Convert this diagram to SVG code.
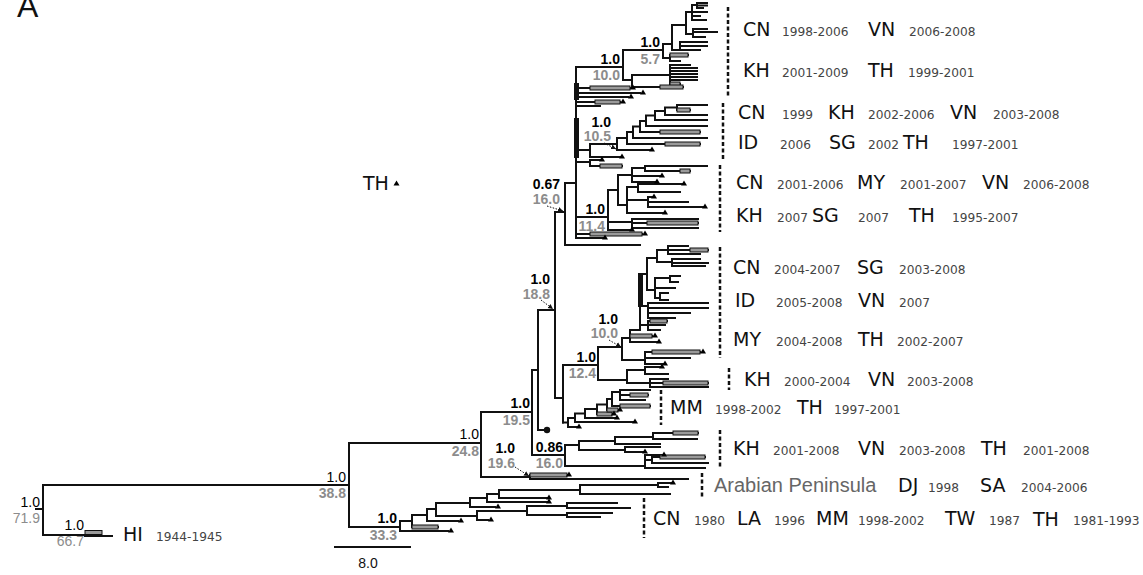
<svg xmlns="http://www.w3.org/2000/svg" xmlns:xlink="http://www.w3.org/1999/xlink" width="1143" height="575" viewBox="0 0 1143 575">
<style>
.b{fill:none;stroke:#111;stroke-width:2;stroke-linecap:square}
.d{fill:none;stroke:#111;stroke-width:2.5;stroke-dasharray:4 2.5}
.g{fill:#9a9a9a;stroke:#111;stroke-width:1}
.ar{fill:none;stroke:#111;stroke-width:1;stroke-dasharray:1.5 1.5}
.n{font-family:"Liberation Sans",Arial,sans-serif;font-size:14px;text-anchor:end;fill:#000}
.nb{font-weight:bold}
.gr{fill:#8c8c8c}
.cc{font-family:"DejaVu Sans",Verdana,sans-serif;font-size:19px;fill:#111}
.yr{font-family:"DejaVu Sans",Verdana,sans-serif;font-size:12.2px;fill:#444}
</style>
<defs>
<path id="tr" d="M-3,1.5L3,1.5L0,-3.5Z" fill="#000"/>
<marker id="ah" markerWidth="6" markerHeight="6" refX="5" refY="3" orient="auto" markerUnits="userSpaceOnUse"><path d="M0,0.5L5,3L0,5.5Z" fill="#111"/></marker>
</defs>
<rect width="1143" height="575" fill="#fff"/>
<text x="17" y="17" font-family="Liberation Sans, Arial, sans-serif" font-size="32" fill="#111">A</text>

<g id="connectors">
<path class="b" d="M36,509H43 M43,485V535 M43,485H349 M43,535H85 M85,536H112 M349,443V527 M349,443H481 M481,412V477 M481,412H532 M481,477H530 M532,370V455 M532,370H538 M532,455H565 M538,310V430 M538,430H547 M538,310H555 M555,212V398 M555,212H565 M555,398H563 M565,183V245 M565,183H576 M565,245H640 M349,527H400"/>
<path class="b" d="M576,67V238 M576,67H623 M623,50V80 M623,50H663 M623,80H632 M663,44V58 M663,58H670 M663,44H672 M670,55V61 M670,55H688 M670,61H680 M672,25V50 M672,50H680 M672,25H686 M680,42V50 M680,42H707 M680,46H707 M680,50H700 M686,12V34 M686,34H693 M686,12H692 M693,29V37 M693,29H707 M693,32H717 M693,37H705 M692,5V20 M692,5H697 M692,12H707 M692,16H700 M692,20H706 M697,3V8 M697,3H707 M697,5.5H707 M697,8H703 M632,75V87 M632,75H670 M632,87H683 M670,65V84 M670,65H690 M670,68H697 M670,71H697 M670,74H697 M670,77H697 M670,80H697 M670,84H680"/>
<path class="b" d="M576,88H630 M576,93H640 M576,97H628 M576,102H620 M576,106H600 M576,150H590 M590,144V157 M590,144H617 M590,157H620 M576,162H590 M590,160V166 M590,160H600 M590,166H622 M576,217H608 M576,234H642 M576,238H603"/>
<path class="b" d="M617,138V150 M617,150H650 M617,138H627 M627,132V144 M627,144H700 M627,132H633 M633,126.5V138 M633,138H707 M633,126.5H640 M640,121V132 M640,132H700 M640,121H646 M646,115.5V126 M646,126H707 M646,115.5H655 M655,111V120 M655,120H707 M655,111H665 M665,107.5V115 M665,115H707 M665,107.5H677 M677,105V110 M677,105H707 M677,110H690"/>
<path class="b" d="M608,190V230 M608,190H618 M618,175V205 M618,175H632 M632,168V182 M632,168H645 M645,166V171 M645,166H707 M645,171H690 M632,176H660 M632,182H655 M618,205H627 M627,187V213 M627,187H638 M638,184V192 M638,184H682 M638,192H680 M627,200H648 M648,197V207 M648,197H652 M648,202H688 M648,207H703 M627,213H663 M608,222H632 M632,219V228 M632,219H698 M632,223H698 M632,228H698 M608,230H630"/>
<path class="b" d="M563,365V422.5 M563,365H598 M598,347V380 M598,347H622 M598,380H627 M622,338V360 M622,338H630 M622,360H645 M630,330V342 M630,330H640 M630,336H652 M630,342H657 M645,352V364 M645,352H700 M645,358H690 M645,364H663 M640,274V330 M640,274H647 M647,258V290 M647,258H657 M657,250V262 M657,250H668 M668,246V254 M668,246H688 M668,250H708 M668,254H700 M657,262H672 M672,259V266 M672,259H700 M672,263H708 M672,266H705 M647,290H655 M655,278V298 M655,278H670 M670,276V282 M670,276H680 M670,282H678 M655,288H675 M655,298H660 M660,293V300 M660,293H668 M660,300H668 M640,306H648 M648,303V318 M648,303H708 M648,308H708 M648,313H690 M648,318H675 M640,325H648 M648,321V330 M648,321H667 M648,325H665 M648,330H660 M627,370V383 M627,370H645 M645,367V374 M645,367H660 M645,374H668 M627,383H650 M650,379V387 M650,379H668 M650,383H708 M650,387H708"/>
<path class="b" d="M563,422.5H568 M568,418V427 M568,427H577 M568,418H575 M575,413.5V422 M575,422H633 M575,413.5H585 M585,409V418 M585,418H615 M585,409H597 M597,404.5V414 M597,414H612 M597,404.5H607 M607,399V410 M607,410H618 M607,399H612 M612,392V406 M612,406H650 M612,392H620 M620,390V400 M620,390H650 M620,395H648 M620,400H645"/>
<path class="b" d="M565,445V466 M565,445H579 M579,441V450 M579,441H615 M615,437V444 M615,437H653 M653,433V439 M653,433H698 M653,439H697 M615,444H660 M579,450H625 M625,447V452 M625,447H660 M625,452H643 M565,466H645 M645,455V468 M645,455H662 M645,460H652 M652,457V463 M652,457H705 M652,463H708 M645,468H705 M530,475V479 M530,475H567 M530,479H688"/>
<path class="b" d="M400,521V531 M400,531H448 M400,521H412 M412,515V527 M412,527H438 M412,515H427 M427,509V521 M427,521H458 M427,509H436 M436,503V516 M436,516H477 M436,503H470 M477,511V520 M477,520H488 M477,511H527 M527,506V515 M527,506H567 M567,503V508 M567,503H617 M567,508H630 M527,515H567 M567,513V517 M567,513H612 M567,517H600 M470,498V507 M470,507H495 M470,498H487 M487,494V502 M487,502H547 M487,494H499 M499,490V498 M499,498H547 M499,490H580 M580,485V494 M580,485H658 M658,483V487 M658,483H672 M658,487H668 M580,494H670"/>
<rect x="574" y="83" width="5" height="17" fill="#111"/>
<rect x="574" y="118" width="5" height="40" fill="#111"/>
<rect x="638" y="273" width="5" height="34" fill="#111"/>
<g class="g">
<rect x="85" y="530.5" width="17" height="4"/>
<rect x="670" y="53" width="18" height="4"/><rect x="670" y="82" width="10" height="4"/><rect x="660" y="85" width="23" height="4"/>
<rect x="590" y="86" width="40" height="4"/><rect x="595" y="100" width="25" height="4"/><rect x="600" y="164" width="22" height="4"/><rect x="590" y="232" width="52" height="4"/>
<rect x="665" y="142" width="35" height="4"/><rect x="660" y="130" width="40" height="4"/><rect x="677" y="108" width="13" height="4"/>
<rect x="680" y="169" width="10" height="4"/><rect x="647" y="221" width="51" height="4"/>
<rect x="690" y="248" width="18" height="4"/><rect x="650" y="319" width="17" height="4"/>
<rect x="630" y="334" width="22" height="4"/><rect x="652" y="350" width="48" height="4"/>
<rect x="663" y="381" width="45" height="4"/>
<rect x="597" y="412" width="15" height="4"/><rect x="607" y="408" width="11" height="4"/><rect x="620" y="404" width="30" height="4"/><rect x="630" y="393" width="18" height="4"/>
<rect x="673" y="431" width="25" height="4"/><rect x="660" y="455" width="45" height="4"/>
<rect x="530" y="473" width="37" height="4"/>
<rect x="412" y="525" width="26" height="4"/>
</g>
<g id="tips">
<use href="#tr" x="633" y="88"/><use href="#tr" x="643" y="93"/><use href="#tr" x="631" y="97"/><use href="#tr" x="623" y="102"/>
<use href="#tr" x="622" y="157"/><use href="#tr" x="602" y="160"/><use href="#tr" x="652" y="150"/>
<use href="#tr" x="662" y="176"/><use href="#tr" x="657" y="182"/><use href="#tr" x="684" y="184"/><use href="#tr" x="654" y="197"/><use href="#tr" x="705" y="207"/><use href="#tr" x="665" y="213"/><use href="#tr" x="632" y="230"/><use href="#tr" x="645" y="234"/><use href="#tr" x="605" y="238"/>
<use href="#tr" x="655" y="336"/><use href="#tr" x="659" y="342"/><use href="#tr" x="703" y="352"/><use href="#tr" x="665" y="364"/><use href="#tr" x="662" y="367"/>
<use href="#tr" x="579" y="427"/><use href="#tr" x="635" y="422"/><use href="#tr" x="617" y="418"/><use href="#tr" x="614" y="414"/><use href="#tr" x="620" y="410"/>
<use href="#tr" x="664" y="455"/><use href="#tr" x="645" y="452"/><use href="#tr" x="569" y="475"/><use href="#tr" x="673" y="483"/>
<use href="#tr" x="451" y="531"/><use href="#tr" x="461" y="521"/><use href="#tr" x="491" y="520"/><use href="#tr" x="498" y="507"/><use href="#tr" x="549" y="502"/><use href="#tr" x="549" y="498"/>
<circle cx="547" cy="430" r="3.2" fill="#111"/>
</g>
<g id="arrows">
<path class="ar" marker-end="url(#ah)" d="M547,206L563,211"/>
<path class="ar" marker-end="url(#ah)" d="M541,300L553,309"/>
<path class="ar" marker-end="url(#ah)" d="M604,143L616,149"/>
<path class="ar" marker-end="url(#ah)" d="M609,340L621,347"/>
<path class="ar" marker-end="url(#ah)" d="M515,467L529,476"/>
</g>
</g>

<g id="node-labels">
<g id="n-root"><text class="n" x="40" y="507">1.0</text><text class="n gr" x="40" y="523">71.9</text></g>
<g id="n-hi"><text class="n" x="84" y="530">1.0</text><text class="n gr" x="84" y="546">66.7</text></g>
<g id="n-38"><text class="n" x="346" y="482">1.0</text><text class="n nb gr" x="346" y="498">38.8</text></g>
<g id="n-24"><text class="n" x="479" y="439">1.0</text><text class="n nb gr" x="479" y="456">24.8</text></g>
<g id="n-195"><text class="n nb" x="530" y="408">1.0</text><text class="n nb gr" x="530" y="425">19.5</text></g>
<g id="n-196"><text class="n nb" x="515" y="453">1.0</text><text class="n nb gr" x="515" y="468">19.6</text></g>
<g id="n-086"><text class="n nb" x="563" y="452">0.86</text><text class="n nb gr" x="563" y="468">16.0</text></g>
<g id="n-333"><text class="n nb" x="397" y="523">1.0</text><text class="n nb gr" x="397" y="540">33.3</text></g>
<g id="n-188"><text class="n nb" x="550" y="284">1.0</text><text class="n nb gr" x="550" y="299">18.8</text></g>
<g id="n-067"><text class="n nb" x="560" y="189">0.67</text><text class="n nb gr" x="560" y="204">16.0</text></g>
<g id="n-105"><text class="n nb" x="611" y="127">1.0</text><text class="n nb gr" x="611" y="141">10.5</text></g>
<g id="n-114"><text class="n nb" x="605" y="214">1.0</text><text class="n nb gr" x="605" y="231">11.4</text></g>
<g id="n-100a"><text class="n nb" x="620" y="64">1.0</text><text class="n nb gr" x="620" y="80">10.0</text></g>
<g id="n-57"><text class="n nb" x="660" y="47">1.0</text><text class="n nb gr" x="660" y="64">5.7</text></g>
<g id="n-100b"><text class="n nb" x="618" y="324">1.0</text><text class="n nb gr" x="618" y="338">10.0</text></g>
<g id="n-124"><text class="n nb" x="596" y="362">1.0</text><text class="n nb gr" x="596" y="378">12.4</text></g>
</g>

<g id="legend">
<text class="cc" x="363" y="190" font-size="18">TH</text>
<use href="#tr" x="396.5" y="184"/>
<path class="b" d="M335,547H410"/>
<text x="368" y="568" font-family="Liberation Sans, Arial, sans-serif" font-size="14" text-anchor="middle" fill="#111">8.0</text>
</g>

<g id="label-hi"><text y="541"><tspan class="cc" x="123" font-size="21">HI</tspan><tspan class="yr" x="156">1944-1945</tspan></text></g>

<g id="clade-1">
<path class="d" d="M728,7V97"/>
<text y="36"><tspan class="cc" x="743">CN</tspan><tspan class="yr" x="782">1998-2006</tspan><tspan class="cc" x="868">VN</tspan><tspan class="yr" x="909">2006-2008</tspan></text>
<text y="77"><tspan class="cc" x="743">KH</tspan><tspan class="yr" x="782">2001-2009</tspan><tspan class="cc" x="868">TH</tspan><tspan class="yr" x="908">1999-2001</tspan></text>
</g>
<g id="clade-2">
<path class="d" d="M723,103V160"/>
<text y="119"><tspan class="cc" x="738">CN</tspan><tspan class="yr" x="782">1999</tspan><tspan class="cc" x="828">KH</tspan><tspan class="yr" x="868">2002-2006</tspan><tspan class="cc" x="950">VN</tspan><tspan class="yr" x="993">2003-2008</tspan></text>
<text y="149"><tspan class="cc" x="738">ID</tspan><tspan class="yr" x="780">2006</tspan><tspan class="cc" x="829">SG</tspan><tspan class="yr" x="868">2002</tspan><tspan class="cc" x="903">TH</tspan><tspan class="yr" x="952">1997-2001</tspan></text>
</g>
<g id="clade-3">
<path class="d" d="M720,165V232"/>
<text y="189"><tspan class="cc" x="736">CN</tspan><tspan class="yr" x="777">2001-2006</tspan><tspan class="cc" x="857">MY</tspan><tspan class="yr" x="900">2001-2007</tspan><tspan class="cc" x="982">VN</tspan><tspan class="yr" x="1023">2006-2008</tspan></text>
<text y="222"><tspan class="cc" x="736">KH</tspan><tspan class="yr" x="777">2007</tspan><tspan class="cc" x="812">SG</tspan><tspan class="yr" x="858">2007</tspan><tspan class="cc" x="909">TH</tspan><tspan class="yr" x="952">1995-2007</tspan></text>
</g>
<g id="clade-4">
<path class="d" d="M720,247V358"/>
<text y="274"><tspan class="cc" x="733">CN</tspan><tspan class="yr" x="774">2004-2007</tspan><tspan class="cc" x="857">SG</tspan><tspan class="yr" x="899">2003-2008</tspan></text>
<text y="307"><tspan class="cc" x="735">ID</tspan><tspan class="yr" x="776">2005-2008</tspan><tspan class="cc" x="858">VN</tspan><tspan class="yr" x="899">2007</tspan></text>
<text y="346"><tspan class="cc" x="733">MY</tspan><tspan class="yr" x="776">2004-2008</tspan><tspan class="cc" x="858">TH</tspan><tspan class="yr" x="897">2002-2007</tspan></text>
</g>
<g id="clade-5">
<path class="d" d="M729,368V390"/>
<text y="386"><tspan class="cc" x="744">KH</tspan><tspan class="yr" x="784">2000-2004</tspan><tspan class="cc" x="868">VN</tspan><tspan class="yr" x="907">2003-2008</tspan></text>
</g>
<g id="clade-6">
<path class="d" d="M661,390V425"/>
<text y="414"><tspan class="cc" x="670">MM</tspan><tspan class="yr" x="715">1998-2002</tspan><tspan class="cc" x="797">TH</tspan><tspan class="yr" x="834">1997-2001</tspan></text>
</g>
<g id="clade-7">
<path class="d" d="M720,430V467"/>
<text y="455"><tspan class="cc" x="733">KH</tspan><tspan class="yr" x="773">2001-2008</tspan><tspan class="cc" x="858">VN</tspan><tspan class="yr" x="899">2003-2008</tspan><tspan class="cc" x="981">TH</tspan><tspan class="yr" x="1023">2001-2008</tspan></text>
</g>
<g id="clade-8">
<path class="d" d="M702,473V497"/>
<text y="492"><tspan x="714" font-family="Liberation Sans, Arial, sans-serif" font-size="20" fill="#666">Arabian Peninsula</tspan><tspan class="cc" x="898">DJ</tspan><tspan class="yr" x="928">1998</tspan><tspan class="cc" x="980">SA</tspan><tspan class="yr" x="1021">2004-2006</tspan></text>
</g>
<g id="clade-9">
<path class="d" d="M644,498V538"/>
<text y="525"><tspan class="cc" x="653">CN</tspan><tspan class="yr" x="694">1980</tspan><tspan class="cc" x="737">LA</tspan><tspan class="yr" x="774">1996</tspan><tspan class="cc" x="816">MM</tspan><tspan class="yr" x="858">1998-2002</tspan><tspan class="cc" x="945">TW</tspan><tspan class="yr" x="989">1987</tspan><tspan class="cc" x="1033" dy="1">TH</tspan><tspan class="yr" x="1073" dy="-1">1981-1993</tspan></text>
</g>
</svg>
